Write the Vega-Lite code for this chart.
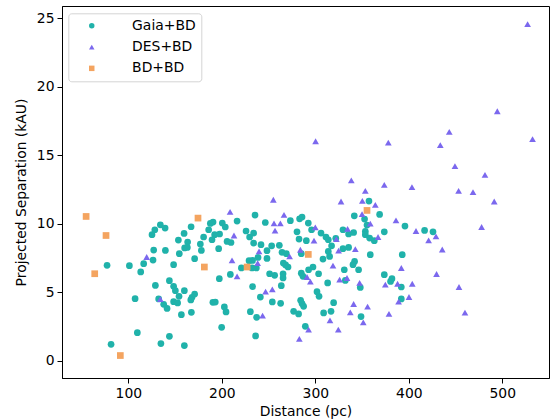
{
  "$schema": "https://vega.github.io/schema/vega-lite/v6.json",
  "width": 487,
  "height": 372,
  "autosize": {"type": "none"},
  "padding": {"left": 62, "top": 6, "right": 9, "bottom": 41},
  "background": "white",
  "config": {
    "font": "DejaVu Sans",
    "view": {"stroke": "black", "strokeWidth": 1},
    "axis": {
      "domainColor": "black", "tickColor": "black", "labelColor": "black", "titleColor": "black",
      "labelFontSize": 13.9, "titleFontSize": 13.9, "titleFontWeight": "normal", "tickSize": 5,
      "grid": false, "labelFont": "DejaVu Sans", "titleFont": "DejaVu Sans", "labelPadding": 3
    },
    "legend": {
      "title": null, "orient": "none", "legendX": 6.3, "legendY": 7.3, "labelFontSize": 13.9, "labelColor": "black",
      "labelFont": "DejaVu Sans", "symbolSize": 30, "padding": 5.5, "rowPadding": 6.3, "fillColor": "white",
      "strokeColor": "#d4d4d4", "cornerRadius": 3, "labelOffset": 33.4, "symbolOffset": 11
    }
  },
  "data": {"values": [
    {"d":134.2,"s":9.93,"c":"Gaia+BD"},{"d":139.3,"s":9.69,"c":"Gaia+BD"},{"d":128.3,"s":9.57,"c":"Gaia+BD"},{"d":125.3,"s":9.21,"c":"Gaia+BD"},
    {"d":127.1,"s":8.09,"c":"Gaia+BD"},{"d":126.4,"s":7.36,"c":"Gaia+BD"},{"d":77.2,"s":6.97,"c":"Gaia+BD"},{"d":101.1,"s":6.95,"c":"Gaia+BD"},
    {"d":116.4,"s":7.09,"c":"Gaia+BD"},{"d":113.2,"s":6.49,"c":"Gaia+BD"},{"d":128.9,"s":5.51,"c":"Gaia+BD"},{"d":107.2,"s":4.54,"c":"Gaia+BD"},
    {"d":132.4,"s":4.52,"c":"Gaia+BD"},{"d":109.6,"s":2.06,"c":"Gaia+BD"},{"d":81.5,"s":1.21,"c":"Gaia+BD"},{"d":134.8,"s":1.26,"c":"Gaia+BD"},
    {"d":197.3,"s":6.0,"c":"Gaia+BD"},{"d":209.1,"s":6.31,"c":"Gaia+BD"},{"d":143.9,"s":5.85,"c":"Gaia+BD"},{"d":148.4,"s":5.44,"c":"Gaia+BD"},
    {"d":150.3,"s":5.12,"c":"Gaia+BD"},{"d":159.9,"s":5.12,"c":"Gaia+BD"},{"d":154.2,"s":4.71,"c":"Gaia+BD"},{"d":168.1,"s":4.64,"c":"Gaia+BD"},
    {"d":170.9,"s":4.88,"c":"Gaia+BD"},{"d":166.8,"s":4.45,"c":"Gaia+BD"},{"d":137.8,"s":4.13,"c":"Gaia+BD"},{"d":141.4,"s":3.83,"c":"Gaia+BD"},
    {"d":148.4,"s":4.32,"c":"Gaia+BD"},{"d":152.7,"s":4.23,"c":"Gaia+BD"},{"d":156.7,"s":3.37,"c":"Gaia+BD"},{"d":167.4,"s":3.54,"c":"Gaia+BD"},
    {"d":190.4,"s":4.27,"c":"Gaia+BD"},{"d":193.0,"s":4.29,"c":"Gaia+BD"},{"d":202.7,"s":3.94,"c":"Gaia+BD"},{"d":204.5,"s":3.57,"c":"Gaia+BD"},
    {"d":230.5,"s":3.59,"c":"Gaia+BD"},{"d":199.8,"s":2.45,"c":"Gaia+BD"},{"d":143.9,"s":1.79,"c":"Gaia+BD"},{"d":159.9,"s":1.12,"c":"Gaia+BD"},
    {"d":216.3,"s":10.2,"c":"Gaia+BD"},{"d":159.6,"s":9.3,"c":"Gaia+BD"},{"d":167.1,"s":9.79,"c":"Gaia+BD"},{"d":187.7,"s":10.03,"c":"Gaia+BD"},
    {"d":190.6,"s":10.13,"c":"Gaia+BD"},{"d":185.9,"s":9.57,"c":"Gaia+BD"},{"d":200.5,"s":10.06,"c":"Gaia+BD"},{"d":203.7,"s":9.77,"c":"Gaia+BD"},
    {"d":180.5,"s":9.04,"c":"Gaia+BD"},{"d":192.3,"s":9.21,"c":"Gaia+BD"},{"d":197.6,"s":9.26,"c":"Gaia+BD"},{"d":189.5,"s":8.84,"c":"Gaia+BD"},
    {"d":225.9,"s":9.48,"c":"Gaia+BD"},{"d":205.6,"s":8.72,"c":"Gaia+BD"},{"d":209.8,"s":8.64,"c":"Gaia+BD"},{"d":153.5,"s":8.82,"c":"Gaia+BD"},
    {"d":163.4,"s":8.67,"c":"Gaia+BD"},{"d":177.0,"s":8.53,"c":"Gaia+BD"},{"d":160.2,"s":8.24,"c":"Gaia+BD"},{"d":163.1,"s":8.28,"c":"Gaia+BD"},
    {"d":178.1,"s":8.06,"c":"Gaia+BD"},{"d":196.6,"s":8.19,"c":"Gaia+BD"},{"d":139.6,"s":8.06,"c":"Gaia+BD"},{"d":154.5,"s":7.82,"c":"Gaia+BD"},
    {"d":170.9,"s":7.46,"c":"Gaia+BD"},{"d":148.4,"s":7.02,"c":"Gaia+BD"},{"d":229.1,"s":7.31,"c":"Gaia+BD"},{"d":220.9,"s":6.78,"c":"Gaia+BD"},
    {"d":235.5,"s":10.64,"c":"Gaia+BD"},{"d":246.5,"s":10.1,"c":"Gaia+BD"},{"d":273.3,"s":10.23,"c":"Gaia+BD"},{"d":283.2,"s":10.37,"c":"Gaia+BD"},
    {"d":285.8,"s":10.5,"c":"Gaia+BD"},{"d":292.5,"s":10.06,"c":"Gaia+BD"},{"d":296.0,"s":9.57,"c":"Gaia+BD"},{"d":234.0,"s":9.33,"c":"Gaia+BD"},
    {"d":229.7,"s":9.04,"c":"Gaia+BD"},{"d":280.4,"s":9.42,"c":"Gaia+BD"},{"d":306.1,"s":9.33,"c":"Gaia+BD"},{"d":311.4,"s":9.04,"c":"Gaia+BD"},
    {"d":282.6,"s":8.89,"c":"Gaia+BD"},{"d":290.4,"s":8.77,"c":"Gaia+BD"},{"d":313.9,"s":8.84,"c":"Gaia+BD"},{"d":234.0,"s":8.6,"c":"Gaia+BD"},
    {"d":241.9,"s":8.48,"c":"Gaia+BD"},{"d":253.3,"s":8.4,"c":"Gaia+BD"},{"d":261.5,"s":8.43,"c":"Gaia+BD"},{"d":317.4,"s":8.4,"c":"Gaia+BD"},
    {"d":248.3,"s":8.04,"c":"Gaia+BD"},{"d":264.4,"s":7.92,"c":"Gaia+BD"},{"d":269.0,"s":7.82,"c":"Gaia+BD"},{"d":285.0,"s":7.82,"c":"Gaia+BD"},
    {"d":313.9,"s":7.99,"c":"Gaia+BD"},{"d":238.7,"s":7.55,"c":"Gaia+BD"},{"d":248.3,"s":7.48,"c":"Gaia+BD"},{"d":232.9,"s":7.33,"c":"Gaia+BD"},
    {"d":308.2,"s":7.43,"c":"Gaia+BD"},{"d":315.3,"s":7.62,"c":"Gaia+BD"},{"d":265.8,"s":7.14,"c":"Gaia+BD"},{"d":268.2,"s":7.0,"c":"Gaia+BD"},
    {"d":270.8,"s":6.85,"c":"Gaia+BD"},{"d":232.3,"s":6.78,"c":"Gaia+BD"},{"d":236.9,"s":6.78,"c":"Gaia+BD"},{"d":297.5,"s":6.85,"c":"Gaia+BD"},
    {"d":292.8,"s":6.65,"c":"Gaia+BD"},{"d":285.0,"s":6.4,"c":"Gaia+BD"},{"d":286.8,"s":6.17,"c":"Gaia+BD"},{"d":303.5,"s":6.36,"c":"Gaia+BD"},
    {"d":251.1,"s":6.36,"c":"Gaia+BD"},{"d":256.5,"s":6.24,"c":"Gaia+BD"},{"d":265.5,"s":6.36,"c":"Gaia+BD"},{"d":265.5,"s":6.05,"c":"Gaia+BD"},
    {"d":313.2,"s":5.69,"c":"Gaia+BD"},{"d":232.9,"s":5.42,"c":"Gaia+BD"},{"d":241.2,"s":4.66,"c":"Gaia+BD"},{"d":263.6,"s":5.49,"c":"Gaia+BD"},
    {"d":254.0,"s":4.3,"c":"Gaia+BD"},{"d":262.9,"s":4.2,"c":"Gaia+BD"},{"d":284.3,"s":4.42,"c":"Gaia+BD"},{"d":285.8,"s":4.18,"c":"Gaia+BD"},
    {"d":287.5,"s":3.98,"c":"Gaia+BD"},{"d":301.8,"s":5.05,"c":"Gaia+BD"},{"d":304.0,"s":4.71,"c":"Gaia+BD"},{"d":319.6,"s":4.25,"c":"Gaia+BD"},
    {"d":237.2,"s":3.18,"c":"Gaia+BD"},{"d":276.8,"s":3.62,"c":"Gaia+BD"},{"d":282.1,"s":3.43,"c":"Gaia+BD"},{"d":308.9,"s":3.5,"c":"Gaia+BD"},
    {"d":316.8,"s":3.62,"c":"Gaia+BD"},{"d":289.3,"s":2.52,"c":"Gaia+BD"},{"d":236.1,"s":1.82,"c":"Gaia+BD"},
    {"d":357.4,"s":11.66,"c":"Gaia+BD"},{"d":341.7,"s":10.59,"c":"Gaia+BD"},{"d":368.8,"s":10.69,"c":"Gaia+BD"},{"d":352.7,"s":10.35,"c":"Gaia+BD"},
    {"d":355.3,"s":9.91,"c":"Gaia+BD"},{"d":395.9,"s":9.84,"c":"Gaia+BD"},{"d":416.9,"s":9.52,"c":"Gaia+BD"},{"d":329.6,"s":9.57,"c":"Gaia+BD"},
    {"d":341.0,"s":9.37,"c":"Gaia+BD"},{"d":335.6,"s":9.26,"c":"Gaia+BD"},{"d":353.5,"s":9.45,"c":"Gaia+BD"},{"d":353.5,"s":9.21,"c":"Gaia+BD"},
    {"d":373.8,"s":9.42,"c":"Gaia+BD"},{"d":321.9,"s":8.95,"c":"Gaia+BD"},{"d":358.1,"s":8.96,"c":"Gaia+BD"},{"d":363.1,"s":8.77,"c":"Gaia+BD"},
    {"d":329.6,"s":8.19,"c":"Gaia+BD"},{"d":335.6,"s":8.28,"c":"Gaia+BD"},{"d":358.8,"s":7.75,"c":"Gaia+BD"},{"d":393.0,"s":7.75,"c":"Gaia+BD"},
    {"d":342.0,"s":7.26,"c":"Gaia+BD"},{"d":340.3,"s":7.02,"c":"Gaia+BD"},{"d":346.3,"s":6.65,"c":"Gaia+BD"},{"d":331.0,"s":6.65,"c":"Gaia+BD"},
    {"d":373.8,"s":6.29,"c":"Gaia+BD"},{"d":382.0,"s":6.0,"c":"Gaia+BD"},{"d":332.1,"s":5.87,"c":"Gaia+BD"},{"d":348.1,"s":5.36,"c":"Gaia+BD"},
    {"d":380.5,"s":5.8,"c":"Gaia+BD"},{"d":392.0,"s":5.39,"c":"Gaia+BD"},{"d":392.0,"s":4.52,"c":"Gaia+BD"},{"d":348.9,"s":3.23,"c":"Gaia+BD"},
    {"d":425.9,"s":9.42,"c":"Gaia+BD"},
    {"d":119.6,"s":7.58,"c":"DES+BD"},{"d":134.2,"s":4.5,"c":"DES+BD"},{"d":216.3,"s":6.17,"c":"DES+BD"},{"d":208.8,"s":10.88,"c":"DES+BD"},
    {"d":213.0,"s":9.15,"c":"DES+BD"},{"d":210.9,"s":7.33,"c":"DES+BD"},{"d":255.1,"s":11.76,"c":"DES+BD"},{"d":266.5,"s":10.66,"c":"DES+BD"},
    {"d":255.8,"s":10.03,"c":"DES+BD"},{"d":262.6,"s":10.03,"c":"DES+BD"},{"d":256.9,"s":9.5,"c":"DES+BD"},{"d":300.0,"s":9.74,"c":"DES+BD"},
    {"d":298.6,"s":8.77,"c":"DES+BD"},{"d":322.5,"s":8.88,"c":"DES+BD"},{"d":239.8,"s":7.99,"c":"DES+BD"},{"d":284.0,"s":8.11,"c":"DES+BD"},
    {"d":272.5,"s":7.62,"c":"DES+BD"},{"d":324.9,"s":8.04,"c":"DES+BD"},{"d":238.3,"s":7.14,"c":"DES+BD"},{"d":318.9,"s":6.95,"c":"DES+BD"},
    {"d":291.1,"s":6.12,"c":"DES+BD"},{"d":294.7,"s":5.78,"c":"DES+BD"},{"d":326.0,"s":5.93,"c":"DES+BD"},{"d":246.8,"s":5.05,"c":"DES+BD"},
    {"d":254.0,"s":5.22,"c":"DES+BD"},{"d":243.6,"s":3.3,"c":"DES+BD"},{"d":315.7,"s":2.96,"c":"DES+BD"},{"d":292.8,"s":2.28,"c":"DES+BD"},
    {"d":324.6,"s":2.28,"c":"DES+BD"},{"d":282.9,"s":1.6,"c":"DES+BD"},{"d":338.5,"s":13.18,"c":"DES+BD"},{"d":373.8,"s":12.85,"c":"DES+BD"},
    {"d":403.4,"s":12.68,"c":"DES+BD"},{"d":327.5,"s":11.63,"c":"DES+BD"},{"d":353.5,"s":12.41,"c":"DES+BD"},{"d":350.3,"s":11.68,"c":"DES+BD"},
    {"d":364.2,"s":11.39,"c":"DES+BD"},{"d":350.0,"s":10.71,"c":"DES+BD"},{"d":358.8,"s":10.01,"c":"DES+BD"},{"d":386.3,"s":10.25,"c":"DES+BD"},
    {"d":407.7,"s":9.48,"c":"DES+BD"},{"d":421.2,"s":8.79,"c":"DES+BD"},{"d":334.5,"s":9.64,"c":"DES+BD"},{"d":367.1,"s":9.04,"c":"DES+BD"},
    {"d":342.8,"s":8.16,"c":"DES+BD"},{"d":392.0,"s":6.78,"c":"DES+BD"},{"d":333.9,"s":6.05,"c":"DES+BD"},{"d":347.4,"s":5.69,"c":"DES+BD"},
    {"d":374.9,"s":5.56,"c":"DES+BD"},{"d":388.0,"s":5.63,"c":"DES+BD"},{"d":403.7,"s":5.63,"c":"DES+BD"},{"d":400.2,"s":4.66,"c":"DES+BD"},
    {"d":389.1,"s":4.32,"c":"DES+BD"},{"d":341.0,"s":4.15,"c":"DES+BD"},{"d":355.9,"s":3.96,"c":"DES+BD"},{"d":337.4,"s":3.54,"c":"DES+BD"},
    {"d":351.3,"s":2.81,"c":"DES+BD"},{"d":378.8,"s":3.43,"c":"DES+BD"},{"d":453.3,"s":12.41,"c":"DES+BD"},{"d":468.7,"s":12.32,"c":"DES+BD"},
    {"d":491.4,"s":11.63,"c":"DES+BD"},{"d":477.9,"s":9.77,"c":"DES+BD"},{"d":429.1,"s":9.08,"c":"DES+BD"},{"d":435.8,"s":8.13,"c":"DES+BD"},
    {"d":429.7,"s":6.34,"c":"DES+BD"},{"d":453.7,"s":5.39,"c":"DES+BD"},{"d":460.1,"s":3.52,"c":"DES+BD"},{"d":527.1,"s":24.58,"c":"DES+BD"},
    {"d":494.7,"s":18.22,"c":"DES+BD"},{"d":300.3,"s":16.03,"c":"DES+BD"},{"d":378.1,"s":15.93,"c":"DES+BD"},{"d":443.3,"s":16.71,"c":"DES+BD"},
    {"d":433.7,"s":15.74,"c":"DES+BD"},{"d":532.4,"s":16.18,"c":"DES+BD"},{"d":449.4,"s":14.21,"c":"DES+BD"},{"d":481.5,"s":13.58,"c":"DES+BD"},
    {"d":54.8,"s":10.54,"c":"BD+BD"},{"d":76.1,"s":9.15,"c":"BD+BD"},{"d":64.0,"s":6.36,"c":"BD+BD"},{"d":91.4,"s":0.39,"c":"BD+BD"},
    {"d":174.5,"s":10.42,"c":"BD+BD"},{"d":181.3,"s":6.85,"c":"BD+BD"},{"d":227.0,"s":6.85,"c":"BD+BD"},{"d":292.5,"s":7.77,"c":"BD+BD"},
    {"d":355.3,"s":10.98,"c":"BD+BD"}
  ]},
  "mark": {"type": "point", "filled": true, "opacity": 1, "size": 45},
  "encoding": {
    "x": {"field": "d", "type": "quantitative", "title": "Distance (pc)",
      "scale": {"domain": [29, 550], "nice": false, "zero": false},
      "axis": {"values": [100, 200, 300, 400, 500], "titlePadding": 5}},
    "y": {"field": "s", "type": "quantitative", "title": "Projected Separation (kAU)",
      "scale": {"domain": [-1.25, 25.9], "nice": false, "zero": false},
      "axis": {"values": [0, 5, 10, 15, 20, 25], "titlePadding": 8}},
    "color": {"field": "c", "type": "nominal", "sort": null,
      "scale": {"domain": ["Gaia+BD", "DES+BD", "BD+BD"], "range": ["#20b2aa", "#7b68ee", "#f4a460"]}},
    "shape": {"field": "c", "type": "nominal", "sort": null,
      "scale": {"domain": ["Gaia+BD", "DES+BD", "BD+BD"], "range": ["circle", "triangle-up", "square"]}}
  }
}
